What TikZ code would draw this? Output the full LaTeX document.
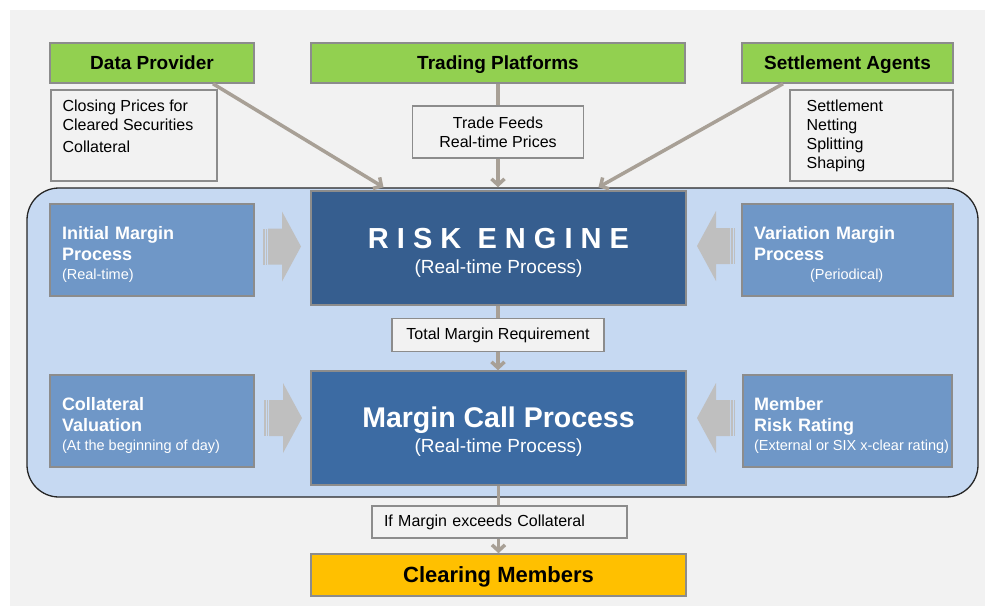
\documentclass[tikz,border=0pt]{standalone}
\usepackage{fontspec}
\setmainfont{Liberation Sans}
\usetikzlibrary{arrows.meta}
\usetikzlibrary{calc}
\definecolor{panelgrey}{HTML}{F2F2F2}
\definecolor{srcgreen}{HTML}{92D050}
\definecolor{boxedge}{HTML}{8C8C8C}
\definecolor{poolblue}{HTML}{C6D9F2}
\definecolor{engineblue}{HTML}{365E8F}
\definecolor{callblue}{HTML}{3C6BA3}
\definecolor{procblue}{HTML}{6F97C7}
\definecolor{flowgrey}{HTML}{A8A096}
\definecolor{shiftgrey}{HTML}{BFBFBF}
\definecolor{memberorange}{HTML}{FFC000}
\newcommand{\subnote}[1]{\mbox{\fontsize{14.5}{19}\selectfont\mdseries\spaceskip=.278em\relax #1}}
\newcommand{\toprow}[1]{\rule{0pt}{#1}}
\tikzset{%
  myedge/.style={-{Straight Barb[length=6pt,width=13pt]}, line width=3.5pt, draw=flowgrey},
  myline/.style={line width=3.5pt, draw=flowgrey},
  srcnode/.style={rectangle, draw=boxedge, line width=1.5pt, fill=srcgreen, font=\fontsize{19}{22}\selectfont\bfseries, minimum height=40pt, inner sep=0pt, text height=13.6pt, text depth=0pt},
  notenode/.style={rectangle, draw=boxedge, line width=1.2pt, fill=panelgrey, font=\fontsize{16}{19}\selectfont, inner sep=0pt, align=center},
  notetext/.style={anchor=north west, inner sep=0pt, align=left, font=\fontsize{16}{19}\selectfont},
  procnode/.style={rectangle, draw=boxedge, line width=1.5pt, fill=procblue, text=white, align=left, inner xsep=12pt, inner ysep=0pt, minimum height=92pt, font=\fontsize{18}{21}\selectfont\bfseries},
  enginenode/.style={rectangle, draw=boxedge, line width=1.5pt, text=white, align=center, minimum width=375pt, minimum height=114pt, font=\fontsize{19}{25}\selectfont}
}

\begin{document}
\begin{tikzpicture}[x=1pt, y=-1pt]

\useasboundingbox (0,0) rectangle (985,606);
\fill[white] (0,0) rectangle (985,606);
\fill[panelgrey] (10,10) rectangle (985,606);

% common pool of processes
\node[rectangle, rounded corners=32pt, draw=black!85, line width=1.3pt, fill=poolblue,
  minimum width=951pt, minimum height=309pt] (pool) at (502.5,342.5) {};

% sources
\node[srcnode, minimum width=204pt] (dp) at (152,63) {Data Provider};
\node[srcnode, minimum width=374pt] (tp) at (498,63) {Trading Platforms};
\node[srcnode, minimum width=211pt] (sa) at (847.5,63) {Settlement Agents};

\node[notenode, minimum width=166pt, minimum height=91pt] (cp) at (134,135.5) {};
\node[notetext] (cptext) at ([shift={(12pt,-10pt)}]cp.north west)
  {Closing Prices for\\Cleared Securities\\[3pt]Collateral};
\node[notenode, minimum width=171pt, minimum height=52pt] (tf) at (498,132) {Trade Feeds\\Real-time Prices};
\node[notenode, minimum width=163pt, minimum height=91pt] (sn) at (871.5,135.5) {};
\node[notetext] (sntext) at ([shift={(17pt,-10pt)}]sn.north west)
  {Settlement\\Netting\\Splitting\\Shaping};

% engines
\node[enginenode, fill=engineblue] (re) at (498.5,248)
  {\toprow{29pt}{\fontsize{29}{30}\selectfont\bfseries R I S K\ \ E N G I N E}\\(Real-time Process)};
\node[notenode, minimum width=212pt, minimum height=33pt] (tm) at (498,335) {Total Margin Requirement};
\node[enginenode, fill=callblue] (mc) at (498.5,428)
  {\toprow{28pt}{\fontsize{28.5}{30}\selectfont\bfseries Margin Call Process}\\(Real-time Process)};

% feeding processes
\node[procnode, text width=180pt] (im) at (152,250) {\toprow{21pt}Initial Margin\\Process\\[-2pt]\subnote{(Real-time)}};
\node[procnode, text width=180pt] (cv) at (152,421) {\toprow{21pt}Collateral\\Valuation\\[-2pt]\subnote{(At the beginning of day)}};
\node[procnode, text width=187pt] (vm) at (847.5,250) {\toprow{21pt}Variation Margin\\Process\\[-2pt]\subnote{\hspace*{56pt}(Periodical)}};
\node[procnode, text width=187pt, inner xsep=11pt] (mr) at (847.5,421) {\toprow{21pt}Member\\Risk Rating\\[-2pt]\subnote{(External or SIX x-clear rating)}};

% outcome
\node[notenode, minimum height=32pt, inner xsep=12pt, text width=231pt, align=left] (ifm) at (499.5,522) {If Margin exceeds Collateral};
\node[srcnode, fill=memberorange, minimum width=375pt, minimum height=42pt, font=\fontsize{22}{24}\selectfont\bfseries, text height=15.8pt] (cm) at (498.5,575) {Clearing Members};

% shift arrows into the engines
\foreach \tx/\cy/\d in {301/246.5/1, 302/418/1, 697/246/-1, 697/418/-1}{
  \fill[shiftgrey] (\tx,\cy) -- ++({-19*\d},35) -- ++(0,-17) -- ++({-14*\d},0)
    -- ++(0,-36) -- ++({14*\d},0) -- ++(0,-17) -- cycle;
  \fill[shiftgrey] ({\tx-38*\d},{\cy-18}) rectangle ({\tx-36.5*\d},{\cy+18});
  \fill[shiftgrey] ({\tx-35.5*\d},{\cy-18}) rectangle ({\tx-34*\d},{\cy+18});
}

% data flows
\draw[myedge] ([xshift=61pt]dp.south) -- ([xshift=-115pt, yshift=3pt]re.north);
\draw[myline] (tp.south) -- (tf.north);
\draw[myedge] (tf.south) -- ([yshift=3pt]re.north -| tf.south);
\draw[myedge] ([xshift=-64.5pt]sa.south) -- ([xshift=100pt, yshift=3pt]re.north);
\draw[myline] (re.south -| tm.north) -- (tm.north);
\draw[myedge] (tm.south) -- (tm.south |- mc.north);
\draw[myline] (mc.south) -- (mc.south |- ifm.north);
\draw[myedge] (mc.south |- ifm.south) -- (cm.north);

\end{tikzpicture}
\end{document}
